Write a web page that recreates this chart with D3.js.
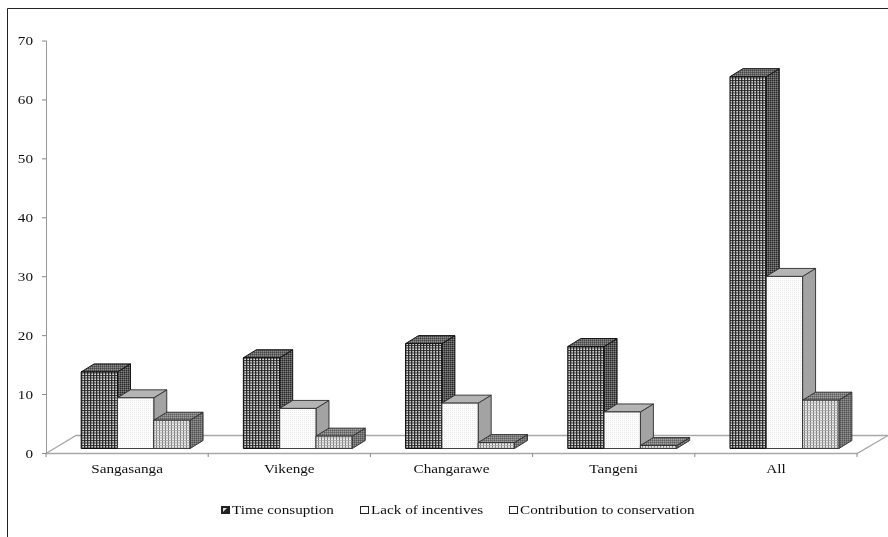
<!DOCTYPE html>
<html><head><meta charset="utf-8">
<script src="https://cdn.jsdelivr.net/npm/d3@7"></script>
<style>html,body{margin:0;padding:0;background:#fff}svg{display:block}text{font-family:"Liberation Serif",serif;fill:#111}</style>
</head><body><svg id="c" width="888" height="537"></svg>
<script>
const categories=["Sangasanga","Vikenge","Changarawe","Tangeni","All"];
const seriesNames=["Time consuption","Lack of incentives","Contribution to conservation"];
const timeConsuption=[13,15.4,17.8,17.3,63.1];
const lackOfIncentives=[8.6,6.8,7.7,6.2,29.2];
const contribution=[4.8,2.1,1,0.5,8.2];
const yTicks=[0,10,20,30,40,50,60,70];
const seriesValues=[timeConsuption,lackOfIncentives,contribution];

const W=888,H=537,dx=13,dy=8,lift=5,sx=1.17;
const svg=d3.select("#c");
const x=d3.scaleBand().domain(categories).range([46,857]);
const inner=d3.scaleBand().domain(seriesNames).range([0,x.bandwidth()]).paddingOuter(0.734).paddingInner(0).align(0.66);
const y=d3.scaleLinear().domain([0,70]).range([453.5,41]);

const defs=svg.append("defs");
const soft=defs.append("filter").attr("id","soft").attr("x",0).attr("y",0).attr("width","100%").attr("height","100%");
soft.append("feGaussianBlur").attr("stdDeviation",0.45);
function pat(id,w,h,bg,rects){
  const p=defs.append("pattern").attr("id",id).attr("width",w).attr("height",h).attr("patternUnits","userSpaceOnUse");
  p.append("rect").attr("width",w).attr("height",h).attr("fill",bg);
  rects.forEach(r=>p.append("rect").attr("x",r[0]).attr("y",r[1]).attr("width",r[2]).attr("height",r[3]).attr("fill",r[4]));
}
pat("f0",3,2.5,"#e6e6e6",[[0,0,1.3,2.5,"#2a2a2a"],[0,0,3,1,"#2a2a2a"]]);
pat("f1",2,2,"#fdfdfd",[[0,0,1,1,"#e8e8e8"]]);
pat("f2",3,2.5,"#f0f0f0",[[0,0,1,2.5,"#777"],[0,0,3,1,"#aaa"]]);
pat("s0",2,2,"#555",[[0,0,1,1,"#2c2c2c"],[1,1,1,1,"#808080"]]);
pat("t0",2,2,"#666",[[0,0,1,1,"#444"],[1,1,1,1,"#8c8c8c"]]);
pat("s2",2,2,"#707070",[[0,0,1,1,"#555"],[1,1,1,1,"#909090"]]);
pat("t2",2,2,"#7c7c7c",[[0,0,1,1,"#606060"],[1,1,1,1,"#a0a0a0"]]);

const root=svg.append("g").attr("filter","url(#soft)");
root.append("rect").attr("width",W).attr("height",H).attr("fill","#fff");
root.append("path").attr("d",`M7.5,${H}V8.5H${W}`).attr("fill","none").attr("stroke","#222");

const g=root.append("g");
const floorC="#a8a8a8";
g.append("path").attr("fill","none").attr("stroke",floorC).attr("stroke-width",1.4)
 .attr("d",`M${x.range()[0]},${y(0)}L${x.range()[0]+30},435.5H${W}`);
g.append("path").attr("fill","none").attr("stroke",floorC).attr("stroke-width",1.4)
 .attr("d",`M${x.range()[0]},${y(0)}H${x.range()[1]}L${W},435.5`);
const xt=categories.map(c=>x(c)).concat([x.range()[1]]);
g.selectAll(".xt").data(xt).join("line").attr("x1",d=>d).attr("x2",d=>d).attr("y1",y(0)).attr("y2",y(0)+3.5).attr("stroke","#888");
g.append("line").attr("x1",46.5).attr("x2",46.5).attr("y1",y(70)).attr("y2",y(0)).attr("stroke","#999");
g.selectAll(".yt").data(yTicks).join("line").attr("x1",42).attr("x2",46.5).attr("y1",d=>y(d)).attr("y2",d=>y(d)).attr("stroke","#888");
g.selectAll(".yl").data(yTicks).join("text").attr("transform",d=>`translate(33,${y(d)+4}) scale(${sx},1)`).attr("text-anchor","end").attr("font-size",13).text(d=>d);
g.selectAll(".xl").data(categories).join("text").attr("transform",c=>`translate(${x(c)+x.bandwidth()/2},473) scale(${sx},1)`).attr("text-anchor","middle").attr("font-size",13).text(c=>c);

const sideFill=["url(#s0)","#a3a3a3","url(#s2)"], topFill=["url(#t0)","#b4b4b4","url(#t2)"];
categories.forEach((c,ci)=>{
  seriesNames.forEach((s,si)=>{
    const v=seriesValues[si][ci];
    const x0=x(c)+inner(s), x1=x0+inner.bandwidth();
    const yb=y(0)-lift, yt=y(v)-lift;
    const b=g.append("g").attr("stroke",si===0?"#111":"#2a2a2a").attr("stroke-width",si===0?1:0.9).attr("stroke-linejoin","round");
    b.append("path").attr("fill",sideFill[si]).attr("d",`M${x1},${yb}V${yt}L${x1+dx},${yt-dy}V${yb-dy}Z`);
    b.append("path").attr("fill",topFill[si]).attr("d",`M${x0},${yt}L${x0+dx},${yt-dy}H${x1+dx}L${x1},${yt}Z`);
    b.append("rect").attr("x",x0).attr("y",yt).attr("width",x1-x0).attr("height",yb-yt).attr("fill",`url(#f${si})`);
  });
});

const legX=[221,360,509];
const lg=root.append("g");
seriesNames.forEach((s,i)=>{
  lg.append("rect").attr("x",legX[i]+.5).attr("y",506.5).attr("width",8).attr("height",7).attr("fill",i===0?"#222":"#fff").attr("stroke","#222");
  if(i===0) lg.append("path").attr("d",`M${legX[i]+2},${512}V508H${legX[i]+6}Z`).attr("fill","#ddd");
  lg.append("text").attr("transform",`translate(${legX[i]+11},514) scale(${sx},1)`).attr("font-size",13).text(s);
});
</script></body></html>
